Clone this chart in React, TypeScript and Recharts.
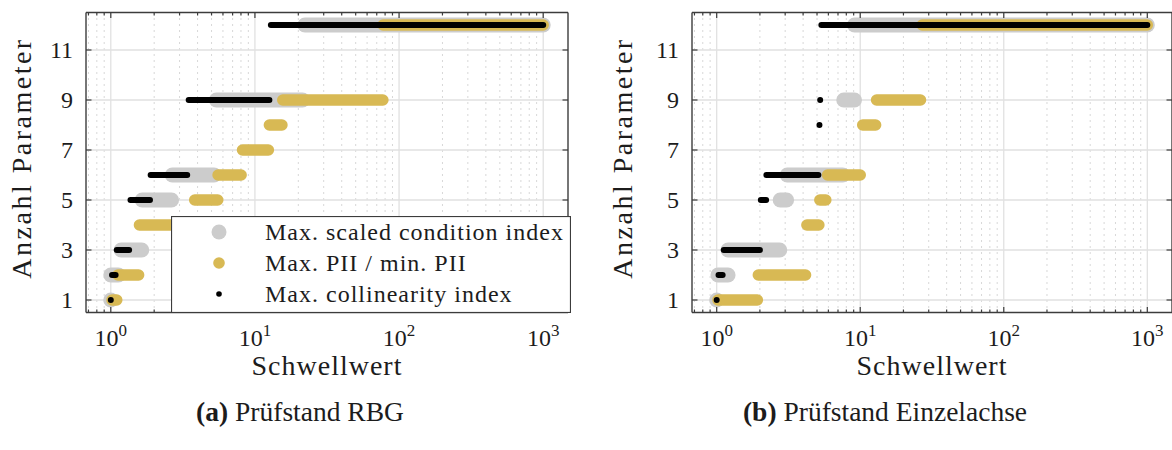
import React from 'react';
import { ComposedChart, Line, XAxis, YAxis, CartesianGrid, Legend } from 'recharts';

// Threshold axis (logarithmic) and parameter-count axis
const xDomain: [number, number] = [0.673, 1486];
const xMajorTicks = [1, 10, 100, 1000];
const xMinorTicks = [
  0.7, 0.8, 0.9,
  2, 3, 4, 5, 6, 7, 8, 9,
  20, 30, 40, 50, 60, 70, 80, 90,
  200, 300, 400, 500, 600, 700, 800, 900,
];
const xTickExponents = ['0', '1', '2', '3'];
const yDomain: [number, number] = [0.5, 12.5];
const yTicks = [1, 3, 5, 7, 9, 11];

// Each entry: [number of parameters, smallest threshold, largest threshold]
type Span = [number, number, number];

// Prüfstand RBG
const rbgCondition: Span[] = [
  [12, 22.2, 1000], [9, 5.4, 21.4], [6, 2.67, 5.21], [5, 1.65, 2.64],
  [3, 1.18, 1.64], [2, 1.0, 1.13], [1, 1.0, 1.0],
];
const rbgPii: Span[] = [
  [12, 77.4, 1000], [9, 15.6, 77.2], [8, 12.6, 15.4], [7, 8.2, 12.4],
  [6, 5.55, 8.02], [5, 3.82, 5.52], [4, 1.58, 3.75], [2, 1.12, 1.56], [1, 1.02, 1.1],
];
const rbgCollinearity: Span[] = [
  [12, 12.9, 1000], [9, 3.47, 12.6], [6, 1.89, 3.39], [5, 1.37, 1.87],
  [3, 1.1, 1.34], [2, 1.02, 1.08], [1, 1.0, 1.0],
];

// Prüfstand Einzelachse
const axisCondition: Span[] = [
  [12, 9.12, 1000], [9, 7.68, 9.12], [6, 3.1, 7.55], [5, 2.77, 3.07],
  [3, 1.2, 2.75], [2, 1.02, 1.2], [1, 1.0, 1.0],
];
const axisPii: Span[] = [
  [12, 27, 1000], [9, 13.0, 26.3], [8, 10.4, 12.8], [6, 5.92, 10.0],
  [5, 5.23, 5.76], [4, 4.25, 5.15], [2, 1.95, 4.16], [1, 1.02, 1.92],
];
const axisCollinearity: Span[] = [
  [12, 5.36, 1000], [9, 5.26, 5.26], [8, 5.2, 5.2], [6, 2.22, 5.11],
  [5, 2.03, 2.21], [3, 1.12, 2.0], [2, 1.03, 1.1], [1, 1.0, 1.0],
];

const seriesNames = ['Max. scaled condition index', 'Max. PII / min. PII', 'Max. collinearity index'];
const seriesColors = ['#cccccc', '#d8b954', '#000000'];
const seriesWidths = [15, 11.5, 6];

const FONT = "'Liberation Serif', 'Times New Roman', serif";
const TEXT = '#1c1c1c';
const AXIS = '#3c3c3c';
const MAJOR_TICK = 5.5;
const MINOR_TICK = 3;

function BottomTick(props: any) {
  const { x, y, payload } = props;
  const idx = xMajorTicks.indexOf(payload.value);
  const major = idx >= 0;
  return (
    <g>
      <line x1={x} x2={x} y1={y} y2={y - (major ? MAJOR_TICK : MINOR_TICK)} stroke={AXIS} strokeWidth={1.2} />
      {major && (
        <text x={x} y={y + 33} textAnchor="middle" fontFamily={FONT} fontSize={24} fill={TEXT}>
          10
          <tspan dy={-10} fontSize={17}>
            {xTickExponents[idx]}
          </tspan>
        </text>
      )}
    </g>
  );
}

function TopTick(props: any) {
  const { x, y, payload } = props;
  const major = xMajorTicks.includes(payload.value);
  return <line x1={x} x2={x} y1={y} y2={y + (major ? MAJOR_TICK : MINOR_TICK)} stroke={AXIS} strokeWidth={1.2} />;
}

function LeftTick(props: any) {
  const { x, y, payload } = props;
  return (
    <g>
      <line x1={x} x2={x + MAJOR_TICK} y1={y} y2={y} stroke={AXIS} strokeWidth={1.2} />
      <text x={x - 13} y={y + 8} textAnchor="end" fontFamily={FONT} fontSize={24} fill={TEXT}>
        {payload.value}
      </text>
    </g>
  );
}

function RightTick(props: any) {
  const { x, y } = props;
  return <line x1={x} x2={x - MAJOR_TICK} y1={y} y2={y} stroke={AXIS} strokeWidth={1.2} />;
}

function LegendBox() {
  const rows = [232, 263, 294];
  const radii = [7.5, 5.8, 2.8];
  return (
    <svg width={400} height={97} style={{ display: 'block' }}>
      <rect x={0.5} y={0.5} width={399} height={96} fill="#ffffff" stroke={AXIS} strokeWidth={1.2} />
      {seriesNames.map((name, i) => (
        <g key={name}>
          <circle cx={48} cy={rows[i] - 216} r={radii[i]} fill={seriesColors[i]} />
          <text
            x={94}
            y={rows[i] - 216 + 8}
            fontFamily={FONT}
            fontSize={24}
            letterSpacing={1}
            fill={TEXT}
          >
            {name}
          </text>
        </g>
      ))}
    </svg>
  );
}

type PanelProps = {
  left: number;
  width: number;
  marginLeft: number;
  marginRight: number;
  series: Span[][];
  showLegend: boolean;
};

function Panel({ left, width, marginLeft, marginRight, series, showLegend }: PanelProps) {
  const allXTicks = [...xMajorTicks, ...xMinorTicks].sort((a, b) => a - b);
  const axisLine = { stroke: AXIS, strokeWidth: 1.4 };
  return (
    <div style={{ position: 'absolute', left, top: 0 }}>
      <ComposedChart
        width={width}
        height={450}
        margin={{ top: 10.5, right: marginRight, bottom: 97.5, left: marginLeft }}
      >
        <CartesianGrid horizontal={false} verticalValues={xMinorTicks} stroke="#b0b0b0" strokeDasharray="1 5" />
        <CartesianGrid verticalValues={xMajorTicks} horizontalValues={yTicks} stroke="#e1e1e1" strokeWidth={1.3} />
        <XAxis
          dataKey="x"
          type="number"
          scale="log"
          domain={xDomain}
          allowDataOverflow
          ticks={allXTicks}
          interval={0}
          height={40}
          tickSize={0}
          tickMargin={0}
          tickLine={false}
          axisLine={axisLine}
          tick={(p: any) => <BottomTick {...p} />}
        />
        <XAxis
          xAxisId="top"
          orientation="top"
          dataKey="x"
          type="number"
          scale="log"
          domain={xDomain}
          allowDataOverflow
          ticks={allXTicks}
          interval={0}
          height={2}
          tickSize={0}
          tickMargin={0}
          tickLine={false}
          axisLine={axisLine}
          tick={(p: any) => <TopTick {...p} />}
        />
        <YAxis
          type="number"
          domain={yDomain}
          allowDataOverflow
          ticks={yTicks}
          interval={0}
          width={60}
          tickSize={0}
          tickMargin={0}
          tickLine={false}
          axisLine={axisLine}
          tick={(p: any) => <LeftTick {...p} />}
        />
        <YAxis
          yAxisId="right"
          orientation="right"
          type="number"
          domain={yDomain}
          allowDataOverflow
          ticks={yTicks}
          interval={0}
          width={2}
          tickSize={0}
          tickMargin={0}
          tickLine={false}
          axisLine={axisLine}
          tick={(p: any) => <RightTick {...p} />}
        />
        {series.map((spans, si) =>
          spans.map(([n, from, to]) => (
            <Line
              key={`${si}-${n}`}
              data={[{ x: from, y: n }, { x: to, y: n }]}
              dataKey="y"
              stroke={seriesColors[si]}
              strokeWidth={seriesWidths[si]}
              strokeLinecap="round"
              dot={false}
              activeDot={false}
              legendType="none"
              isAnimationActive={false}
            />
          ))
        )}
        {showLegend && (
          <Legend
            layout="vertical"
            align="center"
            verticalAlign="middle"
            content={() => <LegendBox />}
            wrapperStyle={{ position: 'absolute', left: 171, top: 216, width: 400, height: 97, margin: 0 }}
          />
        )}
      </ComposedChart>
    </div>
  );
}

function Titles() {
  const titleStyle = { fontFamily: FONT, fontSize: 28, letterSpacing: 1, fill: TEXT } as const;
  const yTitleStyle = { ...titleStyle, letterSpacing: 2.5 };
  return (
    <svg width={1172} height={450} style={{ position: 'absolute', left: 0, top: 0, pointerEvents: 'none' }}>
      <text x={327} y={375} textAnchor="middle" {...titleStyle}>Schwellwert</text>
      <text x={932} y={375} textAnchor="middle" {...titleStyle}>Schwellwert</text>
      <text transform="translate(31,158) rotate(-90)" textAnchor="middle" {...yTitleStyle}>Anzahl Parameter</text>
      <text transform="translate(632,158) rotate(-90)" textAnchor="middle" {...yTitleStyle}>Anzahl Parameter</text>
      <text x={300} y={421} textAnchor="middle" fontFamily={FONT} fontSize={27.5} fill={TEXT}>
        <tspan fontWeight="bold">(a)</tspan> Prüfstand RBG
      </text>
      <text x={885} y={421} textAnchor="middle" fontFamily={FONT} fontSize={27.5} fill={TEXT}>
        <tspan fontWeight="bold">(b)</tspan> Prüfstand Einzelachse
      </text>
    </svg>
  );
}

export default function App() {
  return (
    <div style={{ position: 'absolute', left: 0, top: 0, width: 1172, height: 450, overflow: 'hidden', background: '#ffffff' }}>
      <Panel
        left={0}
        width={586}
        marginLeft={26}
        marginRight={16}
        series={[rbgCondition, rbgPii, rbgCollinearity]}
        showLegend
      />
      <Panel
        left={586}
        width={590}
        marginLeft={46}
        marginRight={2}
        series={[axisCondition, axisPii, axisCollinearity]}
        showLegend={false}
      />
      <Titles />
    </div>
  );
}
